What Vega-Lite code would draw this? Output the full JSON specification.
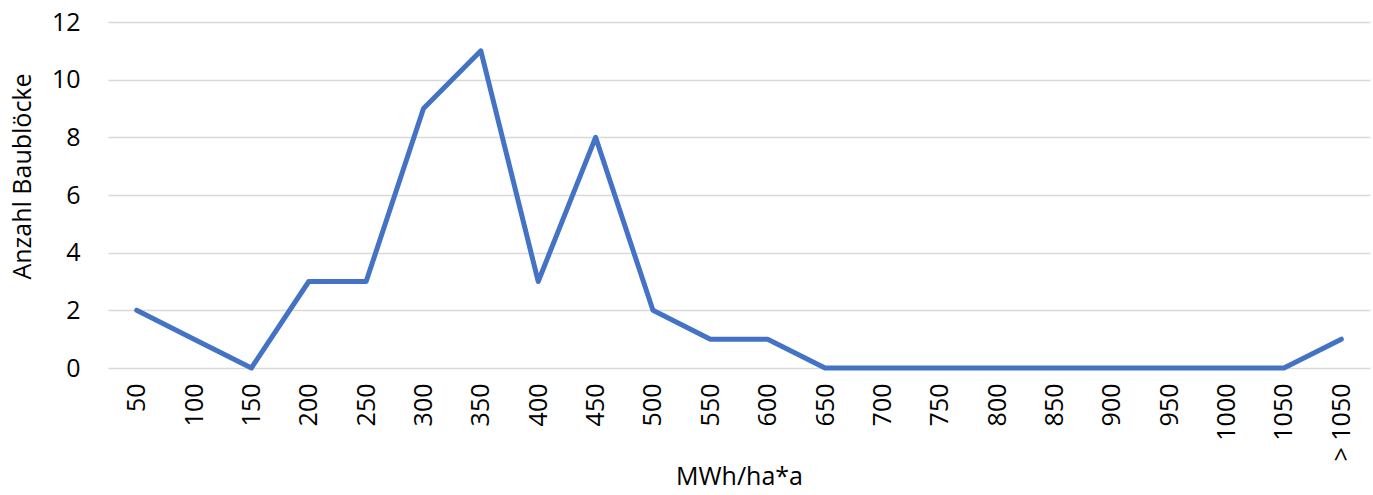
{
  "$schema": "https://vega.github.io/schema/vega-lite/v6.json",
  "autosize": "none",
  "padding": {"left": 108, "top": 22, "right": 3, "bottom": 127},
  "width": 1262,
  "height": 346,
  "background": "white",
  "config": {
    "view": {"stroke": null},
    "font": "Open Sans",
    "axis": {"labelFont": "Open Sans", "titleFont": "Open Sans", "labelColor": "#000000", "titleColor": "#000000", "titleFontWeight": "normal"}
  },
  "data": {
    "values": [
      {"k": "50", "n": 2},
      {"k": "100", "n": 1},
      {"k": "150", "n": 0},
      {"k": "200", "n": 3},
      {"k": "250", "n": 3},
      {"k": "300", "n": 9},
      {"k": "350", "n": 11},
      {"k": "400", "n": 3},
      {"k": "450", "n": 8},
      {"k": "500", "n": 2},
      {"k": "550", "n": 1},
      {"k": "600", "n": 1},
      {"k": "650", "n": 0},
      {"k": "700", "n": 0},
      {"k": "750", "n": 0},
      {"k": "800", "n": 0},
      {"k": "850", "n": 0},
      {"k": "900", "n": 0},
      {"k": "950", "n": 0},
      {"k": "1000", "n": 0},
      {"k": "1050", "n": 0},
      {"k": "> 1050", "n": 1}
    ]
  },
  "mark": {"type": "line", "color": "#4472C4", "strokeWidth": 5, "strokeCap": "round", "strokeJoin": "round"},
  "encoding": {
    "x": {
      "field": "k", "type": "ordinal", "sort": null,
      "scale": {"type": "point", "padding": 0.5},
      "axis": {
        "title": "MWh/ha*a", "titleFontSize": 25, "titlePadding": 4,
        "labelAngle": 270, "labelAlign": "right", "labelBaseline": "middle",
        "labelFontSize": 25, "labelPadding": 15, "ticks": false, "domain": false, "grid": false
      }
    },
    "y": {
      "field": "n", "type": "quantitative",
      "scale": {"domain": [0, 12]},
      "axis": {
        "title": "Anzahl Baublöcke", "titleFontSize": 25, "titlePadding": 16, "titleY": 154,
        "values": [0, 2, 4, 6, 8, 10, 12],
        "labelFontSize": 25, "labelPadding": 28, "ticks": false, "domain": false,
        "grid": true, "gridColor": "#d9d9d9", "gridWidth": 1.5
      }
    }
  }
}
